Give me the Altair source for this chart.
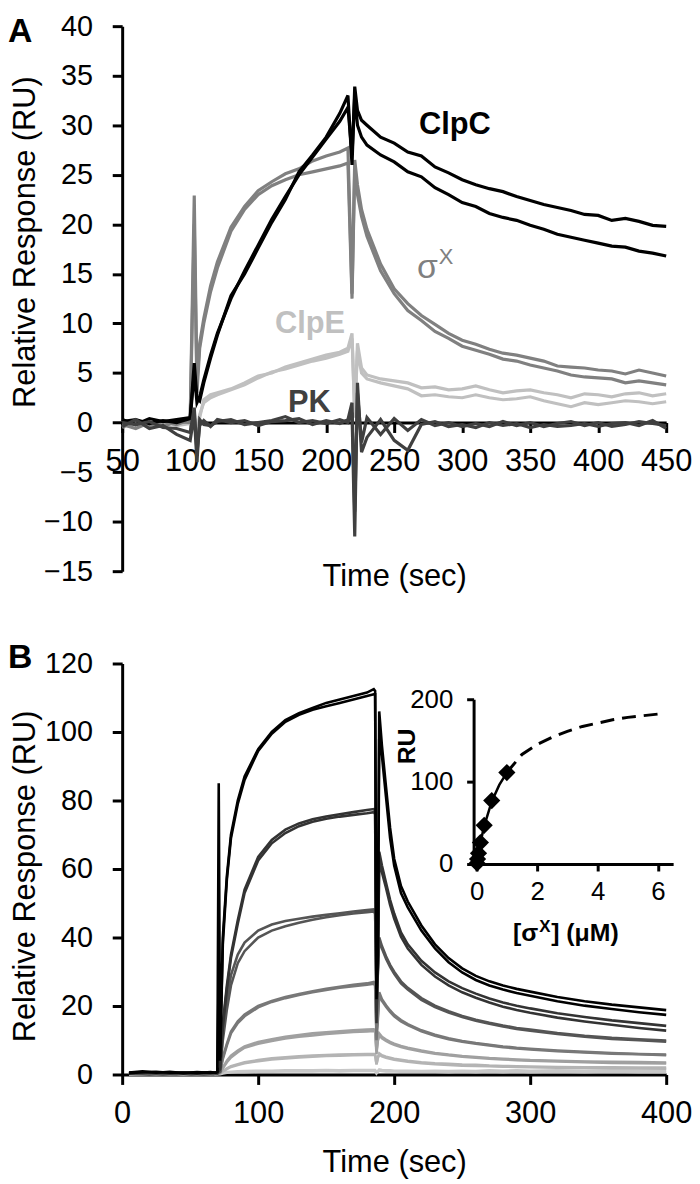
import altair as alt
import pandas as pd

FONT = "Liberation Sans"

# ---------------- Panel A data (time in s, response in RU) ----------------
time_a = [50, 60, 70, 80, 90, 100, 103, 105, 107, 110, 115, 120, 130, 140, 150, 160, 170, 180, 190, 200, 210,
          216, 219, 221, 223, 226, 230, 240, 250, 260, 270, 280, 290, 300, 310, 320, 330, 340, 350, 360, 370,
          380, 390, 400, 410, 420, 430, 440, 450]

clpc_1 = [0.3, -0.2, 0.4, 0.1, 0.3, 0.5, 6, 2.5, 2.2, 4.0, 6.5, 8.8, 12.8, 15.0, 17.6, 20.2, 22.5, 25.3, 27.0, 28.8, 31.2,
          33.0, 26, 33.9, 31.5, 30.5, 30.0, 28.8, 28.2, 27.3, 26.9, 25.8, 25.2, 24.5, 24.0, 23.6, 23.3, 22.8, 22.4, 22.0,
          21.7, 21.4, 21.0, 20.9, 20.4, 20.6, 20.3, 19.9, 19.8]
clpc_2 = [0.1, 0.3, -0.1, 0.2, 0.0, 0.4, 5, 2.0, 2.6, 4.3, 6.8, 9.0, 12.5, 15.3, 17.9, 20.5, 22.8, 25.0, 26.8, 28.6, 30.4,
          31.8, 27, 33.0, 30.0, 28.8, 28.0, 27.0, 26.3, 25.3, 24.8, 23.7, 23.0, 22.2, 21.8, 21.1, 20.7, 20.4, 19.9, 19.5,
          19.0, 18.7, 18.4, 18.1, 17.8, 17.7, 17.3, 17.1, 16.8]
sigx_1 = [-0.5, 0.2, -0.3, 0.1, -0.2, 0.3, 22.9, 4.0, 8.0, 10.5, 13.8, 16.2, 19.7, 21.8, 23.4, 24.3, 25.1, 25.6, 26.4, 26.9,
          27.3, 27.7, 13.0, 26.5, 24.0, 21.5, 19.5, 16.0, 13.5, 12.0, 10.8, 9.9, 9.0, 8.3, 7.9, 7.4, 7.0, 6.8, 6.5, 6.2,
          5.7, 5.6, 5.5, 5.3, 5.2, 4.9, 5.3, 5.0, 4.7]
sigx_2 = [-0.2, -0.6, 0.0, -0.4, 0.1, 0.0, 20.0, 3.0, 7.5, 10.0, 13.2, 15.6, 19.3, 21.5, 23.0, 23.9, 24.5, 25.0, 25.3, 25.6,
          25.9, 26.2, 12.5, 25.5, 23.0, 20.8, 18.8, 15.3, 13.0, 11.3, 10.3, 9.2, 8.5, 7.7, 7.3, 6.9, 6.4, 6.2, 5.8, 5.5,
          5.2, 4.8, 4.6, 4.5, 4.4, 4.0, 4.2, 4.0, 3.8]
clpe_1 = [0.2, -0.3, 0.1, -0.2, 0.0, 0.2, 1.0, -1.2, 0.5, 2.3, 2.8, 3.0, 3.4, 4.0, 4.7, 5.0, 5.6, 6.0, 6.4, 6.8, 7.1,
          7.5, 9.0, 0.5, 8.0, 5.5, 4.8, 4.4, 4.2, 4.0, 3.5, 3.6, 3.3, 3.4, 3.7, 3.3, 3.0, 3.2, 3.3, 3.0, 2.8, 2.5, 2.9,
          2.8, 2.6, 2.9, 3.0, 2.7, 2.9]
clpe_2 = [-0.4, 0.0, -0.5, 0.1, -0.3, -0.1, 0.5, -0.8, 0.8, 2.0, 2.5, 2.8, 3.3, 3.8, 4.5, 5.1, 5.4, 5.8, 6.2, 6.5, 6.9,
          7.2, 8.5, 1.0, 7.2, 5.0, 4.4, 4.0, 3.7, 3.4, 2.7, 2.8, 2.6, 2.5, 2.8, 2.5, 2.3, 2.4, 2.6, 2.2, 1.9, 1.6, 2.0,
          1.8, 2.0, 2.2, 2.1, 1.9, 2.1]
pk_1 = [-0.4, 0.3, -0.6, -0.3, -1.2, -1.8, 0.8, -4.0, 0.3, -0.2, -0.3, 0.1, 0.3, -0.2, 0.0, 0.2, 0.6, 0.0, 0.2, -0.1, 0.3,
        0.0, 1.0, -11.5, 4.0, -3.0, -1.5, 0.3, -1.8, -2.8, -0.2, 0.1, -0.4, -0.2, -0.5, 0.0, -0.3, -0.1, -0.5, -0.2,
        -0.4, -0.3, -0.1, -0.4, -0.1, 0.0, -0.3, 0.2, -0.6]
pk_2 = [0.0, -0.2, 0.1, -0.5, -0.6, -1.0, 1.5, -3.0, -0.3, 0.2, -0.4, 0.3, 0.0, 0.2, -0.3, 0.1, 0.2, 0.4, -0.2, 0.2, -0.1,
        0.3, 2.0, -9.0, 3.0, -2.0, 0.5, -1.2, 0.4, -0.8, 0.3, -0.3, 0.0, -0.4, -0.1, -0.4, 0.1, -0.3, 0.0, -0.4, -0.1,
        0.1, -0.3, 0.0, -0.4, -0.2, 0.1, -0.1, -0.3]

# label annotations for panel A
lab_a_text = ["ClpC", "ClpE", "PK"]
lab_a_t = [268.2, 162.4, 171.9]
lab_a_v = [29.1, 9.0, 1.1]
lab_a_color = ["#000000", "#c0c0c0", "#404040"]

# ---------------- Panel B data ----------------
time_b = [5, 15, 25, 35, 45, 55, 65, 69, 70, 71, 72, 74, 77, 80, 85, 90, 100, 110, 120, 130, 140, 150, 160, 170, 180,
          185, 186, 187, 188, 189, 191, 194, 197, 200, 205, 210, 220, 230, 240, 250, 260, 270, 280, 290, 300, 320, 340,
          360, 380, 400]

b_c1_a = [0.6, 0.9, 0.5, 0.8, 0.4, 0.7, 0.5, 0.6, 0.9] + \
         [85, 5, 40, 58, 70, 80, 87, 95, 100, 103.5, 105.5, 107, 108.5, 109.5, 110.5, 111.5, 112.5] + \
         [112, 22, 40, 106, 96, 84, 72, 63, 55, 50.5, 43.5, 38, 34, 31, 28.8, 27.2, 26, 25, 24.2, 22.6, 21.4, 20.4, 19.6, 18.8]
b_c1_b = [0.4, 0.7, 0.8, 0.5, 0.6, 0.4, 0.7, 0.5, 0.7] + \
         [30, 4, 38, 57, 69, 79, 86, 94.5, 99.5, 103, 105, 106.5, 107.5, 108.5, 109.5, 110.5, 111] + \
         [111, 25, 35, 98, 93, 81, 69, 61, 53, 48.8, 42, 36.8, 32.8, 29.8, 27.6, 26, 24.8, 23.8, 23, 21.4, 20.1, 19.1, 18.2, 17.4]
b_c2_a = [0.5, 0.4, 0.6, 0.3, 0.5, 0.4, 0.6, 0.4, 0.5] + \
         [1.5, 2, 15, 26, 35, 45, 54, 63.5, 68.5, 71.5, 73.3, 74.5, 75.3, 76, 76.6, 77.2, 77.5] + \
         [77, 15, 30, 65, 61, 56, 51, 47, 41.5, 38, 33.2, 29.8, 27.2, 25.2, 23.6, 22.2, 21, 20.1, 19.3, 17.9, 16.8, 15.8, 15, 14.2]
b_c2_b = [0.3, 0.6, 0.4, 0.5, 0.3, 0.6, 0.4, 0.6, 0.4] + \
         [1, 1.5, 14, 25, 34, 44, 53, 62.5, 67.5, 70.5, 72.5, 73.8, 74.7, 75.3, 75.8, 76.3, 76.6] + \
         [76, 18, 32, 62, 59, 54.5, 49.5, 45.5, 40.2, 36.8, 32, 28.6, 26, 24, 22.4, 21, 19.8, 18.8, 18, 16.6, 15.5, 14.5, 13.6, 12.8]
b_c3_a = [0.4, 0.5, 0.3, 0.5, 0.4, 0.3, 0.5, 0.4, 0.4] + \
         [0.8, 1, 12, 22, 29, 35, 38.5, 42, 43.8, 44.8, 45.5, 46.1, 46.6, 47.1, 47.6, 48, 48.2] + \
         [47.5, 20, 30, 40, 37.5, 34.5, 32, 30, 27.2, 25.3, 22.3, 20.1, 18.5, 17.1, 16, 15.1, 14.3, 13.6, 13.1, 12.1, 11.3, 10.7, 10.3, 9.9]
b_c3_b = [0.3, 0.4, 0.5, 0.3, 0.5, 0.4, 0.3, 0.5, 0.3] + \
         [0.6, 0.8, 10, 19, 26, 32.5, 36, 40, 42, 43.3, 44.3, 45.2, 45.9, 46.5, 47, 47.4, 47.6] + \
         [47, 22, 31, 39, 36.8, 33.8, 31.4, 29.4, 26.6, 24.8, 21.8, 19.7, 18.1, 16.8, 15.7, 14.8, 14, 13.3, 12.8, 11.8, 11, 10.4, 10, 9.6]
b_c4_a = [0.3, 0.4, 0.2, 0.4, 0.3, 0.3, 0.4, 0.3, 0.4] + \
         [0.5, 0.8, 5, 9, 12.5, 15.5, 17.5, 20, 21.5, 22.6, 23.5, 24.3, 25, 25.6, 26.2, 26.6, 27] + \
         [26.5, 10, 16, 24, 22, 20.2, 18.7, 17.4, 15.9, 14.7, 12.9, 11.6, 10.6, 9.8, 9.2, 8.7, 8.2, 7.8, 7.5, 7, 6.6, 6.3, 6, 5.8]
b_c4_b = [0.2, 0.3, 0.4, 0.2, 0.4, 0.3, 0.2, 0.4, 0.3] + \
         [0.4, 0.6, 4.5, 8.5, 12, 15, 17, 19.6, 21.2, 22.3, 23.2, 24, 24.7, 25.3, 25.8, 26.2, 26.5] + \
         [26, 12, 17, 23, 21.5, 19.8, 18.3, 17, 15.5, 14.4, 12.6, 11.3, 10.3, 9.6, 9, 8.5, 8, 7.6, 7.3, 6.8, 6.4, 6.1, 5.9, 5.6]
b_c5_a = [0.3, 0.2, 0.4, 0.2, 0.3, 0.2, 0.3, 0.2, 0.3] + \
         [0.4, 0.5, 2, 4, 5.5, 7, 8.2, 9.5, 10.3, 11, 11.5, 12, 12.3, 12.6, 12.9, 13.1, 13.2] + \
         [13, 6, 10, 12, 11, 10.2, 9.5, 9, 8.3, 7.8, 7, 6.3, 5.8, 5.4, 5.1, 4.8, 4.6, 4.4, 4.2, 4, 3.8, 3.7, 3.6, 3.5]
b_c5_b = [0.2, 0.3, 0.2, 0.3, 0.2, 0.3, 0.2, 0.3, 0.2] + \
         [0.3, 0.4, 1.8, 3.6, 5, 6.5, 7.8, 9, 9.8, 10.5, 11, 11.4, 11.8, 12.1, 12.4, 12.6, 12.7] + \
         [12.5, 7, 10, 11.5, 10.6, 9.8, 9.2, 8.7, 8, 7.5, 6.7, 6.1, 5.6, 5.2, 4.9, 4.6, 4.4, 4.2, 4, 3.8, 3.6, 3.4, 3.3, 3.2]
b_c6_a = [0.2, 0.3, 0.2, 0.2, 0.3, 0.2, 0.2, 0.3, 0.2] + \
         [0.3, 0.3, 1, 1.8, 2.4, 3, 3.6, 4.2, 4.7, 5, 5.3, 5.5, 5.7, 5.8, 5.9, 6, 6] + \
         [6, 3, 5, 6.2, 5.6, 5.2, 4.9, 4.6, 4.3, 4, 3.6, 3.3, 3.1, 2.9, 2.8, 2.6, 2.5, 2.4, 2.3, 2.2, 2.1, 2.1, 2, 2]
b_c6_b = [0.1, 0.2, 0.3, 0.2, 0.1, 0.3, 0.2, 0.1, 0.2] + \
         [0.2, 0.3, 0.9, 1.6, 2.2, 2.8, 3.3, 3.9, 4.4, 4.7, 5, 5.2, 5.4, 5.5, 5.6, 5.7, 5.7] + \
         [5.6, 3, 4.8, 5.8, 5.3, 4.9, 4.6, 4.3, 4, 3.7, 3.3, 3, 2.8, 2.6, 2.5, 2.4, 2.3, 2.2, 2.1, 2, 1.9, 1.8, 1.8, 1.7]
b_c7_a = [0.1, 0.2, 0.1, 0.2, 0.1, 0.2, 0.1, 0.2, 0.1] + \
         [0.2, 0.2, 0.5, 0.7, 0.8, 0.9, 1, 1.1, 1.1, 1.2, 1.2, 1.2, 1.3, 1.2, 1.3, 1.3, 1.3] + \
         [1.3, 0.5, 1, 1.5, 1.3, 1.2, 1.2, 1.1, 1.1, 1.1, 1, 1.1, 1, 1.1, 1, 1.2, 1.1, 1.2, 1.1, 1.2, 1.1, 1.2, 1.2, 1.2]
b_c7_b = [0.1, 0.1, 0.2, 0.1, 0.2, 0.1, 0.2, 0.1, 0.2] + \
         [0.1, 0.1, 0.3, 0.5, 0.6, 0.7, 0.7, 0.8, 0.8, 0.9, 0.9, 0.9, 1, 0.9, 1, 1, 1] + \
         [1, 0.3, 0.8, 1.2, 1, 0.9, 0.9, 0.9, 0.8, 0.8, 0.8, 0.8, 0.7, 0.8, 0.7, 0.8, 0.7, 0.8, 0.7, 0.8, 0.7, 0.8, 0.7, 0.7]

# inset: equilibrium response vs sigma-X concentration
inset_conc = [0.0156, 0.031, 0.0625, 0.125, 0.25, 0.5, 1.0]
inset_ru = [1, 6, 13, 26, 47, 77, 111]
fit_solid_conc = [0, 0.0625, 0.125, 0.25, 0.5, 0.75, 1.0]
fit_solid_ru = [0, 13, 26, 46, 76, 96, 111]
fit_dash_conc = [1.0, 1.5, 2.0, 2.5, 3.0, 3.5, 4.0, 4.5, 5.0, 5.5, 6.0]
fit_dash_ru = [111, 133, 145, 154, 161, 167, 171, 175, 178, 180, 182]

# ---------------- geometry ----------------
WA, HA = 548, 549
WB, HB = 548, 414

# ---------------- Panel A ----------------
xa = alt.X("t:Q", scale=alt.Scale(domain=[50, 450], nice=False, zero=False),
           axis=alt.Axis(values=list(range(50, 451, 50)), offset=-HA * 15 / 55, labelFlush=False,
                         title="Time (sec)", titleY=155, titleBaseline="middle"))
ya = alt.Y("v:Q", scale=alt.Scale(domain=[-15, 40], nice=False, zero=False),
           axis=alt.Axis(values=list(range(-15, 41, 5)), title="Relative Response (RU)",
                         titleX=-97, titleY=217, titleBaseline="middle"))

curves_a = [
    (clpe_1, "#c0c0c0"), (clpe_2, "#c0c0c0"),
    (sigx_1, "#808080"), (sigx_2, "#808080"),
    (clpc_1, "#000000"), (clpc_2, "#000000"),
    (pk_1, "#404040"), (pk_2, "#404040"),
]
layers_a = []
for vals, col in curves_a:
    df = pd.DataFrame({"t": time_a, "v": vals})
    layers_a.append(alt.Chart(df).mark_line(color=col, strokeWidth=3.2).encode(x=xa, y=ya))

lab_df = pd.DataFrame({"t": lab_a_t, "v": lab_a_v, "txt": lab_a_text, "col": lab_a_color})
labels_bold = alt.Chart(lab_df).mark_text(font=FONT, fontSize=31, fontWeight="bold", align="left",
                                          baseline="alphabetic").encode(
    x=xa, y=ya, text="txt:N", color=alt.Color("col:N", scale=None))
sig_df = pd.DataFrame({"t": [266.8], "v": [14.6], "txt": ["σ"]})
sig_lab = alt.Chart(sig_df).mark_text(font=FONT, fontSize=34, color="#808080", align="left",
                                      baseline="alphabetic").encode(x=xa, y=ya, text="txt:N")
sup_df = pd.DataFrame({"t": [282.8], "v": [16.0], "txt": ["X"]})
sup_lab = alt.Chart(sup_df).mark_text(font=FONT, fontSize=22, color="#808080", align="left",
                                      baseline="alphabetic").encode(x=xa, y=ya, text="txt:N")
letter_a = alt.Chart(pd.DataFrame({"s": ["A"]})).mark_text(
    font=FONT, fontSize=34, fontWeight="bold", align="left", baseline="top").encode(
    x=alt.value(-115), y=alt.value(-11), text="s:N")

panel_a = alt.layer(*layers_a, labels_bold, sig_lab, sup_lab, letter_a).properties(width=WA, height=HA)

# ---------------- Panel B ----------------
xb = alt.X("t:Q", scale=alt.Scale(domain=[0, 400], nice=False),
           axis=alt.Axis(values=[0, 100, 200, 300, 400], labelFlush=False, title="Time (sec)",
                         titleY=89, titleBaseline="middle"))
yb = alt.Y("v:Q", scale=alt.Scale(domain=[0, 120], nice=False),
           axis=alt.Axis(values=list(range(0, 121, 20)), title="Relative Response (RU)",
                         titleX=-97, titleY=214, titleBaseline="middle"))

curves_b = [
    (b_c7_a, "#c8c8c8"), (b_c7_b, "#c8c8c8"),
    (b_c6_a, "#b4b4b4"), (b_c6_b, "#b4b4b4"),
    (b_c5_a, "#a0a0a0"), (b_c5_b, "#a0a0a0"),
    (b_c4_a, "#787878"), (b_c4_b, "#787878"),
    (b_c3_a, "#555555"), (b_c3_b, "#555555"),
    (b_c2_a, "#333333"), (b_c2_b, "#333333"),
    (b_c1_a, "#000000"), (b_c1_b, "#000000"),
]
layers_b = []
for vals, col in curves_b:
    df = pd.DataFrame({"t": time_b, "v": vals})
    layers_b.append(alt.Chart(df).mark_line(color=col, strokeWidth=2.6).encode(x=xb, y=yb))

letter_b = alt.Chart(pd.DataFrame({"s": ["B"]})).mark_text(
    font=FONT, fontSize=34, fontWeight="bold", align="left", baseline="top").encode(
    x=alt.value(-115), y=alt.value(-22), text="s:N")

main_b = alt.layer(*layers_b, letter_b)

# inset
xi = alt.X("c:Q", scale=alt.Scale(domain=[-0.1, 6.5], range=[354, 555], nice=False, zero=False),
           axis=alt.Axis(orient="bottom", offset=-212, values=[0, 2, 4, 6], title=None,
                         labelFontSize=26, tickSize=7, labelPadding=8, labelFlush=False))
yi = alt.Y("r:Q", scale=alt.Scale(domain=[0, 200], range=[202, 36], nice=False),
           axis=alt.Axis(orient="left", offset=-354, values=[0, 100, 200], title="RU",
                         titleFontWeight="bold", titleFontSize=25, titleX=-68, titleY=83,
                         titleBaseline="middle", labelFontSize=26, tickSize=7, labelPadding=14))

solid_df = pd.DataFrame({"c": fit_solid_conc, "r": fit_solid_ru})
dash_df = pd.DataFrame({"c": fit_dash_conc, "r": fit_dash_ru})
pts_df = pd.DataFrame({"c": inset_conc, "r": inset_ru})
fit_solid = alt.Chart(solid_df).mark_line(color="black", strokeWidth=2.5).encode(x=xi, y=yi)
fit_dash = alt.Chart(dash_df).mark_line(color="black", strokeWidth=3, strokeDash=[14, 8]).encode(x=xi, y=yi)
pts = alt.Chart(pts_df).mark_point(shape="diamond", filled=True, size=300, color="black", opacity=1).encode(x=xi, y=yi)

t1 = alt.Chart(pd.DataFrame({"c": [2.04], "r": [-93], "txt": ["[σ"]})).mark_text(
    font=FONT, fontSize=25, fontWeight="bold", align="right", baseline="alphabetic").encode(x=xi, y=yi, text="txt:N")
t2 = alt.Chart(pd.DataFrame({"c": [2.04], "r": [-82], "txt": ["X"]})).mark_text(
    font=FONT, fontSize=17, fontWeight="bold", align="left", baseline="alphabetic", dx=1).encode(x=xi, y=yi, text="txt:N")
t3 = alt.Chart(pd.DataFrame({"c": [2.04], "r": [-93], "txt": ["] (μM)"]})).mark_text(
    font=FONT, fontSize=25, fontWeight="bold", align="left", baseline="alphabetic", dx=13).encode(x=xi, y=yi, text="txt:N")

inset = alt.layer(fit_solid, fit_dash, pts, t1, t2, t3)

panel_b = alt.layer(main_b, inset).resolve_scale(x="independent", y="independent").properties(width=WB, height=HB)

chart = alt.vconcat(panel_a, panel_b, spacing=50).properties(
    padding=0, background="white"
).configure_view(stroke=None).configure_axis(
    grid=False, domainColor="black", domainWidth=3, tickColor="black", tickWidth=3, tickSize=10,
    labelColor="black", titleColor="black", labelFont=FONT, titleFont=FONT, titleFontWeight="normal",
    labelOverlap=False
).configure_axisX(labelFontSize=31, labelPadding=14, titleFontSize=31
).configure_axisY(labelFontSize=29, labelPadding=20, titleFontSize=31)

chart.save("out.html", embed_options={"renderer": "svg", "actions": False})
